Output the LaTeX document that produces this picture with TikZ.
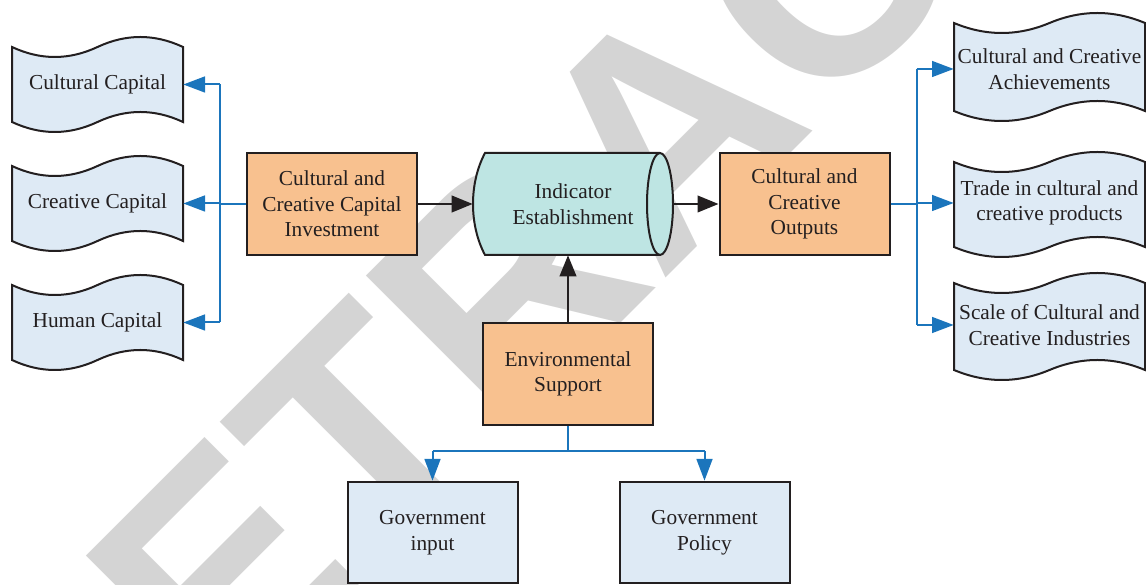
\documentclass[tikz,border=0pt]{standalone}
\usepackage{fontspec}
\setmainfont{Liberation Serif}
\setsansfont{Liberation Sans}
\usetikzlibrary{arrows.meta,positioning}

\definecolor{lineblue}{HTML}{1B75BC}
\definecolor{darkline}{HTML}{231F20}
\definecolor{orangefill}{HTML}{F8C18F}
\definecolor{tealfill}{HTML}{BEE5E3}
\definecolor{bluefill}{HTML}{DEEAF5}
\definecolor{markgray}{HTML}{D4D4D4}

\tikzset{
  boxnode/.style={draw=darkline, line width=1.2pt, minimum width=102pt, minimum height=61.2pt,
    align=center, inner sep=0pt, text=darkline, font=\fontsize{12.8}{15.3}\selectfont},
  orangebox/.style={boxnode, fill=orangefill},
  bluebox/.style={boxnode, fill=bluefill},
  tapetext/.style={minimum height=44pt, align=center, inner sep=0pt, text=darkline,
    font=\fontsize{12.8}{15.3}\selectfont},
  tapeshape/.style={draw=darkline, line width=1.2pt, fill=bluefill},
  blueline/.style={draw=lineblue, line width=1.2pt},
  bluearrow/.style={blueline, -{Triangle[length=13pt,width=9.5pt]}},
  blackarrow/.style={draw=darkline, line width=1.2pt, -{Triangle[length=12.6pt,width=10pt]}},
}

% wavy tape: left, right, top, bottom, amplitude
\newcommand{\wavybox}[5]{%
  \pgfmathsetmacro{\wA}{(#2-#1)/6}
  \pgfmathsetmacro{\hA}{#5*4/3}
  \filldraw[tapeshape] (#1,#3)
    .. controls +(\wA,-\hA) and +(-\wA,-\hA) .. ++(3*\wA,0)
    .. controls +(\wA,\hA) and +(-\wA,\hA) .. ++(3*\wA,0)
    -- (#2,#4)
    .. controls +(-\wA,\hA) and +(\wA,\hA) .. ++(-3*\wA,0)
    .. controls +(-\wA,-\hA) and +(\wA,-\hA) .. ++(-3*\wA,0)
    -- cycle;
}

\begin{document}
\begin{tikzpicture}[x=0.6pt,y=0.6pt]
\useasboundingbox (0,0) rectangle (1146,585);

% watermark
\begin{scope}
  \clip (0,0) rectangle (1146,585);
  \node[rotate=45, anchor=base west, inner sep=0pt, text=markgray,
    font=\sffamily\bfseries\fontsize{186}{186}\selectfont] (mark) at (64,-295) {RETRACTED};
\end{scope}

% left tapes
\wavybox{12}{183}{538}{463}{10}
\wavybox{12}{183}{419}{344}{10}
\wavybox{12}{183}{300}{225}{10}
\node[tapetext, minimum width=102.6pt] (cultcap) at (97.5,500.5) {Cultural Capital};
\node[tapetext, minimum width=102.6pt] (creacap) at (97.5,381.5) {Creative Capital};
\node[tapetext, minimum width=102.6pt] (humcap) at (97.5,262.5) {Human Capital};

% right tapes
\wavybox{954}{1145}{562}{474}{10}
\wavybox{954}{1145}{423}{338}{10}
\wavybox{954}{1145}{302}{215}{10}
\node[tapetext, minimum width=114.6pt] (achieve) at (1049.5,516) {Cultural and Creative\\Achievements};
\node[tapetext, minimum width=114.6pt] (trade) at (1049.5,382) {Trade in cultural and\\creative products};
\node[tapetext, minimum width=114.6pt] (scale) at (1049.5,260) {Scale of Cultural and\\Creative Industries};

% cylinder
\filldraw[draw=darkline, line width=1.2pt, fill=tealfill] (485,432) -- (660,432)
  arc[start angle=90, end angle=-90, x radius=13, y radius=51]
  -- (485,330) .. controls (469,360) and (469,402) .. (485,432) -- cycle;
\draw[darkline, line width=1.2pt] (660,432) arc[start angle=90, end angle=270, x radius=13, y radius=51];
\node[tapetext, minimum width=120pt, minimum height=61.2pt] (indic) at (573,381) {Indicator\\Establishment};

% boxes
\node[orangebox] (ccci) at (332,381) {Cultural and\\Creative Capital\\Investment};
\node[orangebox] (cco) at (804.5,381) {Cultural and\\Creative\\Outputs};
\node[orangebox] (env) at (568,211) {Environmental\\Support};
\node[bluebox, minimum height=61pt] (govin) at (432.5,52.5) {Government\\input};
\node[bluebox, minimum height=61pt] (govpol) at (704.5,52.5) {Government\\Policy};

% black arrows
\draw[blackarrow] (ccci.east) -- (indic.west);
\draw[blackarrow] (indic.east) -- (cco.west);
\draw[blackarrow] (env.north) -- (env.north |- indic.south);

% blue, left
\draw[blueline] (ccci.west) -- ++(-26,0) coordinate (lsplit);
\draw[blueline] (lsplit |- cultcap.east) -- (lsplit |- humcap.east);
\foreach \n in {cultcap,creacap,humcap}
  \draw[bluearrow] (lsplit |- \n.east) -- (\n.east);

% blue, right
\draw[blueline] (cco.east) -- ++(26,0) coordinate (rsplit);
\draw[blueline] (rsplit |- achieve.west) -- (rsplit |- scale.west);
\foreach \n in {achieve,trade,scale}
  \draw[bluearrow] (rsplit |- \n.west) -- (\n.west);

% blue, bottom
\draw[blueline] (env.south) -- ++(0,-25) coordinate (bsplit);
\draw[blueline] (govin.north |- bsplit) -- (govpol.north |- bsplit);
\draw[bluearrow] (govin.north |- bsplit) -- (govin.north);
\draw[bluearrow] (govpol.north |- bsplit) -- (govpol.north);

\end{tikzpicture}
\end{document}
